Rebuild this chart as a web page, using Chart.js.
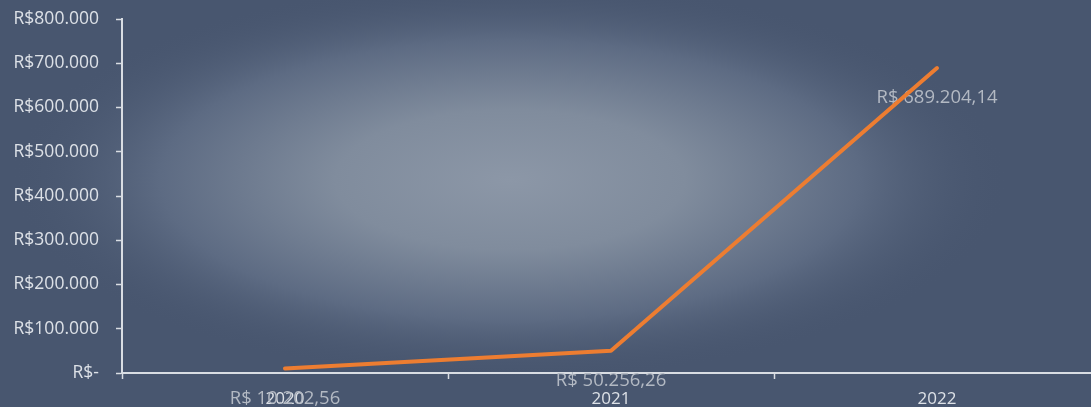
<!DOCTYPE html>
<html>
<head>
<meta charset="utf-8">
<script src="https://cdn.jsdelivr.net/npm/chart.js@4.4.1/dist/chart.umd.min.js"></script>
<style>
  html, body { margin: 0; padding: 0; overflow: hidden; background: #48566f; }
  #wrap { width: 1100px; height: 407px; position: relative; }
</style>
</head>
<body>
<div id="wrap"><canvas id="chart"></canvas></div>
<script>
// Revenue per year (R$)
const years  = ['2020', '2021', '2022'];
const values = [10202.56, 50256.26, 689204.14];
const labels = ['R$ 10.202,56', 'R$ 50.256,26', 'R$ 689.204,14'];

const axisColor = '#d9dde3';
const textColor = '#dde1e7';

function brl(v) {
  if (v === 0) return 'R$-';
  return 'R$' + v.toString().replace(/\B(?=(\d{3})+(?!\d))/g, '.');
}

// soft radial glow behind the chart
const glow = {
  id: 'glow',
  beforeDraw: function(chart) {
    var ctx = chart.ctx;
    var w = chart.width, h = chart.height;
    ctx.save();
    ctx.fillStyle = '#48566f';
    ctx.fillRect(0, 0, w, h);
    ctx.translate(510, 180);
    ctx.scale(2.5, 1);
    var g = ctx.createRadialGradient(0, 0, 0, 0, 0, 200);
    g.addColorStop(0, '#8c97a7');
    g.addColorStop(0.35, '#808c9d');
    g.addColorStop(0.7, '#5d6b83');
    g.addColorStop(1, 'rgba(72,86,111,0)');
    ctx.fillStyle = g;
    ctx.beginPath();
    ctx.arc(0, 0, 200, 0, Math.PI * 2);
    ctx.fill();
    ctx.restore();
  }
};

// value labels under each point, drawn behind the line
const valueLabels = {
  id: 'valueLabels',
  beforeDatasetsDraw: function(chart) {
    var ctx = chart.ctx;
    var meta = chart.getDatasetMeta(0);
    ctx.save();
    ctx.font = '18.5px "Open Sans", sans-serif';
    ctx.fillStyle = '#b3b9c3';
    ctx.textAlign = 'center';
    ctx.textBaseline = 'middle';
    meta.data.forEach(function(pt, i) {
      ctx.fillText(labels[i], pt.x, pt.y + 30);
    });
    ctx.restore();
  }
};

new Chart(document.getElementById('chart'), {
  type: 'line',
  data: {
    labels: years,
    datasets: [{
      data: values,
      borderColor: '#ed7d31',
      borderWidth: 4,
      borderCapStyle: 'round',
      borderJoinStyle: 'round',
      pointRadius: 0,
      tension: 0,
      fill: false
    }]
  },
  options: {
    responsive: true,
    maintainAspectRatio: false,
    animation: false,
    layout: { padding: { top: 19, right: 0, left: 0, bottom: 0 } },
    plugins: { legend: { display: false }, tooltip: { enabled: false } },
    scales: {
      x: {
        offset: true,
        z: 1,
        grid: { offset: true, drawOnChartArea: false, color: axisColor, tickLength: 6, tickWidth: 1.5 },
        border: { color: axisColor, width: 2 },
        ticks: { color: textColor, padding: 10, font: { family: '"Open Sans", sans-serif', size: 17 } },
        afterFit: function(s) { s.height = 34; }
      },
      y: {
        min: 0,
        max: 800000,
        grid: { drawOnChartArea: false, color: axisColor, tickLength: 6, tickWidth: 1.5 },
        border: { color: axisColor, width: 2 },
        ticks: {
          stepSize: 100000,
          color: textColor,
          padding: 17,
          font: { family: '"Open Sans", sans-serif', size: 17.5 },
          callback: function(v) { return brl(v); }
        },
        afterFit: function(s) { s.width = 122; s.paddingTop = 0; s.paddingBottom = 0; }
      }
    }
  },
  plugins: [glow, valueLabels]
});
</script>
</body>
</html>
